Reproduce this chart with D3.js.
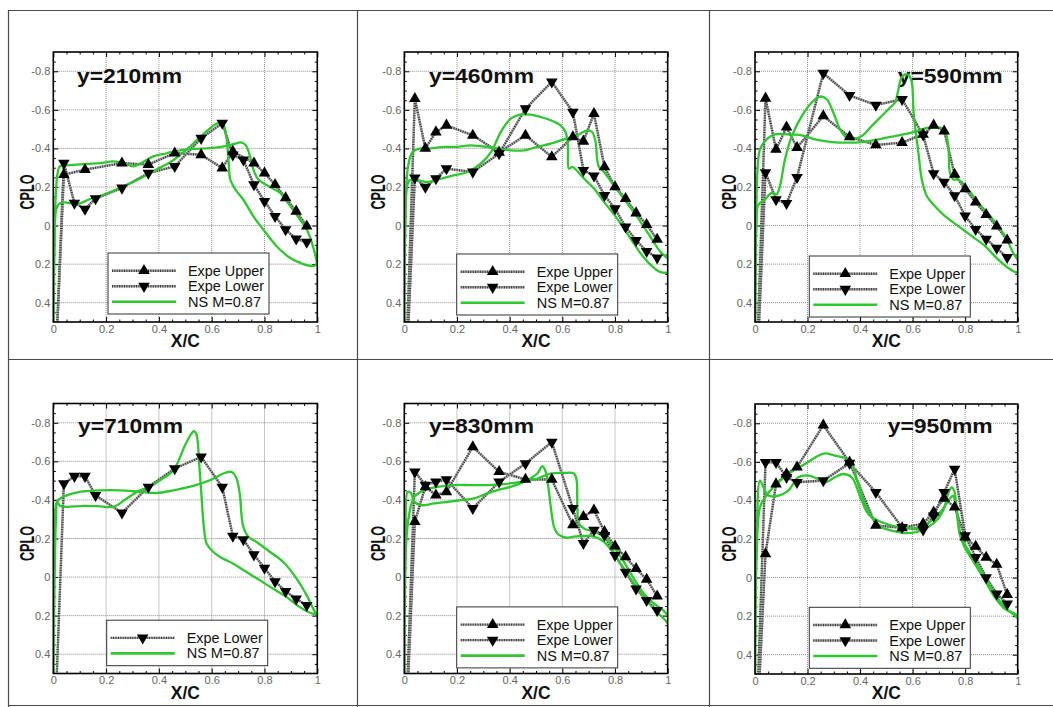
<!DOCTYPE html>
<html>
<head>
<meta charset="utf-8">
<script src="https://cdn.jsdelivr.net/npm/d3@7"></script>
<style>
  body { margin: 0; background: #fff; }
  svg { display: block; }
  text { font-family: "Liberation Sans", Arial, Helvetica, sans-serif; }
</style>
</head>
<body>
<svg id="chart" width="1053" height="707"></svg>
<script>
// ---------------------------------------------------------------
// Pressure coefficient CPLO along the chord, six span stations.
// ---------------------------------------------------------------

// Pressure-tap stations (x/c) shared by the experimental series
const xStations = [0, 0.04, 0.08, 0.12, 0.16, 0.26, 0.36, 0.46, 0.56, 0.64, 0.68, 0.72, 0.76, 0.80, 0.84, 0.88, 0.92, 0.96];

// Axis ticks
const xTicks = [0, 0.2, 0.4, 0.6, 0.8, 1];
const yTicks = [-0.8, -0.6, -0.4, -0.2, 0, 0.2, 0.4];
const yDomain = [-0.9, 0.5];

const titles = ["y=210mm", "y=460mm", "y=590mm", "y=710mm", "y=830mm", "y=950mm"];
const legendLabels = ["Expe Upper", "Expe Lower", "NS M=0.87"];

// --- y = 210 mm ---
const upper210 = [1.0, -0.264, null, -0.29, null, -0.324, -0.316, -0.376, -0.367, -0.298, -0.384, null, -0.324, -0.272, -0.212, -0.143, -0.074, 0.003];
const lower210 = [1.0, -0.324, -0.117, -0.086, -0.14, -0.195, -0.272, -0.307, -0.453, -0.531, -0.367, -0.341, -0.212, -0.126, -0.048, 0.021, 0.069, 0.086];
const nsA210 = [[0,0.6],[0.004,0.15],[0.009,-0.15],[0.016,-0.27],[0.025,-0.307],[0.05,-0.312],[0.088,-0.316],[0.13,-0.32],[0.177,-0.324],[0.227,-0.333],[0.265,-0.325],[0.303,-0.307],[0.34,-0.33],[0.379,-0.359],[0.43,-0.375],[0.492,-0.393],[0.54,-0.398],[0.58,-0.40],[0.62,-0.405],[0.657,-0.415],[0.69,-0.425],[0.707,-0.431],[0.722,-0.425],[0.732,-0.41],[0.745,-0.36],[0.758,-0.29],[0.776,-0.24],[0.808,-0.21],[0.835,-0.19],[0.859,-0.17],[0.885,-0.125],[0.909,-0.08],[0.935,-0.03],[0.96,0.02],[0.975,0.07],[0.99,0.14],[1.0,0.2]];
const nsB210 = [[0,0.6],[0.004,0.1],[0.01,-0.08],[0.02,-0.11],[0.04,-0.12],[0.07,-0.115],[0.1,-0.115],[0.139,-0.138],[0.2,-0.165],[0.265,-0.203],[0.33,-0.245],[0.39,-0.29],[0.45,-0.335],[0.518,-0.41],[0.58,-0.488],[0.625,-0.531],[0.645,-0.52],[0.657,-0.445],[0.664,-0.33],[0.67,-0.24],[0.68,-0.21],[0.69,-0.186],[0.72,-0.134],[0.758,-0.048],[0.795,0.02],[0.846,0.107],[0.896,0.167],[0.947,0.2],[0.985,0.21],[0.997,0.2],[1.0,0.1]];

// --- y = 460 mm ---
const upper460 = [1.0, -0.658, -0.40, -0.485, -0.52, -0.468, -0.38, -0.468, -0.356, -0.46, -0.437, -0.58, -0.304, -0.2, -0.14, -0.065, -0.005, 0.072];
const lower460 = [1.0, -0.247, -0.20, -0.244, -0.295, -0.278, -0.373, -0.606, -0.745, -0.589, -0.287, -0.258, -0.157, -0.088, 0.007, 0.076, 0.133, 0.167];
const nsA460 = [[0,0.6],[0.004,0.0],[0.01,-0.2],[0.02,-0.235],[0.05,-0.235],[0.09,-0.226],[0.14,-0.244],[0.19,-0.261],[0.24,-0.278],[0.29,-0.321],[0.33,-0.382],[0.366,-0.485],[0.404,-0.555],[0.44,-0.575],[0.48,-0.575],[0.518,-0.563],[0.556,-0.546],[0.593,-0.52],[0.612,-0.485],[0.621,-0.416],[0.625,-0.295],[0.638,-0.304],[0.65,-0.292],[0.682,-0.244],[0.72,-0.192],[0.758,-0.123],[0.808,-0.036],[0.859,0.067],[0.9,0.15],[0.94,0.21],[0.97,0.24],[1.0,0.245]];
const nsB460 = [[0,0.6],[0.005,-0.1],[0.015,-0.313],[0.032,-0.382],[0.063,-0.4],[0.1,-0.4],[0.15,-0.408],[0.2,-0.408],[0.25,-0.416],[0.3,-0.41],[0.354,-0.4],[0.404,-0.39],[0.455,-0.39],[0.505,-0.408],[0.556,-0.425],[0.606,-0.447],[0.657,-0.468],[0.694,-0.494],[0.713,-0.485],[0.726,-0.434],[0.732,-0.347],[0.739,-0.304],[0.758,-0.278],[0.795,-0.209],[0.833,-0.14],[0.884,-0.045],[0.934,0.058],[0.972,0.136],[1.0,0.17]];

// --- y = 590 mm ---
const upper590 = [1.0, -0.66, -0.395, -0.51, -0.404, -0.568, -0.46, -0.418, -0.43, -0.473, -0.52, -0.49, -0.265, -0.19, -0.121, -0.057, 0.003, 0.076];
const lower590 = [1.0, -0.275, -0.135, -0.115, -0.25, -0.79, -0.675, -0.625, -0.655, -0.47, -0.27, -0.225, -0.155, -0.05, 0.02, 0.07, 0.117, 0.165];
const nsA590 = [[0,0.6],[0.004,0.038],[0.009,-0.274],[0.019,-0.395],[0.044,-0.447],[0.076,-0.473],[0.127,-0.473],[0.178,-0.468],[0.228,-0.447],[0.292,-0.433],[0.355,-0.43],[0.406,-0.433],[0.47,-0.447],[0.533,-0.464],[0.596,-0.482],[0.66,-0.508],[0.704,-0.508],[0.723,-0.49],[0.736,-0.412],[0.742,-0.274],[0.755,-0.239],[0.774,-0.239],[0.812,-0.187],[0.85,-0.118],[0.901,-0.04],[0.952,0.055],[0.983,0.142],[1.0,0.177]];
const nsB590 = [[0,0.6],[0.005,0.0],[0.01,-0.1],[0.019,-0.118],[0.038,-0.135],[0.063,-0.17],[0.082,-0.161],[0.095,-0.205],[0.114,-0.343],[0.14,-0.464],[0.178,-0.568],[0.216,-0.638],[0.247,-0.669],[0.273,-0.655],[0.298,-0.586],[0.324,-0.499],[0.349,-0.456],[0.374,-0.447],[0.406,-0.464],[0.444,-0.516],[0.482,-0.568],[0.514,-0.612],[0.533,-0.638],[0.546,-0.707],[0.558,-0.768],[0.577,-0.785],[0.594,-0.759],[0.603,-0.603],[0.609,-0.516],[0.622,-0.378],[0.635,-0.239],[0.654,-0.153],[0.685,-0.1],[0.723,-0.049],[0.774,0.003],[0.825,0.055],[0.876,0.107],[0.926,0.177],[0.964,0.22],[0.996,0.243],[1.0,0.24]];

// --- y = 710 mm (lower surface only) ---
const lower710 = [1.0, -0.485, -0.523, -0.523, -0.424, -0.333, -0.467, -0.563, -0.623, -0.467, -0.213, -0.194, -0.116, -0.047, 0.023, 0.074, 0.113, 0.147];
const nsA710 = [[0,0.6],[0.005,0.0],[0.01,-0.3],[0.015,-0.39],[0.025,-0.37],[0.05,-0.364],[0.114,-0.369],[0.177,-0.367],[0.227,-0.364],[0.278,-0.407],[0.328,-0.45],[0.366,-0.468],[0.404,-0.502],[0.455,-0.554],[0.499,-0.684],[0.524,-0.745],[0.533,-0.757],[0.543,-0.736],[0.553,-0.58],[0.562,-0.407],[0.571,-0.251],[0.581,-0.173],[0.606,-0.13],[0.644,-0.095],[0.682,-0.069],[0.732,-0.026],[0.783,0.017],[0.833,0.061],[0.884,0.104],[0.934,0.156],[0.972,0.185],[1.0,0.196]];
const nsB710 = [[0,0.6],[0.006,-0.25],[0.013,-0.39],[0.025,-0.407],[0.05,-0.424],[0.1,-0.442],[0.177,-0.45],[0.253,-0.45],[0.328,-0.442],[0.391,-0.436],[0.455,-0.45],[0.53,-0.473],[0.593,-0.502],[0.644,-0.537],[0.676,-0.545],[0.694,-0.511],[0.707,-0.424],[0.713,-0.32],[0.72,-0.26],[0.739,-0.208],[0.77,-0.182],[0.821,-0.13],[0.871,-0.078],[0.922,0.009],[0.96,0.095],[0.985,0.165],[1.0,0.203]];

// --- y = 830 mm ---
const upper830 = [1.0, -0.287, -0.468, -0.425, -0.442, -0.675, -0.546, -0.506, -0.506, -0.27, -0.313, -0.347, -0.235, -0.16, -0.104, -0.043, 0.012, 0.099];
const lower830 = [1.0, -0.546, -0.477, -0.494, -0.506, -0.356, -0.494, -0.589, -0.70, -0.356, -0.175, -0.244, -0.216, -0.113, -0.026, 0.061, 0.121, 0.173];
const nsA830 = [[0,0.6],[0.004,-0.1],[0.006,-0.19],[0.013,-0.442],[0.025,-0.437],[0.038,-0.39],[0.063,-0.373],[0.114,-0.382],[0.164,-0.39],[0.215,-0.399],[0.265,-0.408],[0.316,-0.434],[0.354,-0.451],[0.404,-0.468],[0.455,-0.494],[0.505,-0.537],[0.524,-0.575],[0.537,-0.546],[0.545,-0.485],[0.556,-0.365],[0.568,-0.261],[0.581,-0.226],[0.6,-0.21],[0.619,-0.204],[0.644,-0.21],[0.682,-0.213],[0.72,-0.21],[0.758,-0.183],[0.795,-0.123],[0.833,-0.045],[0.871,0.033],[0.909,0.102],[0.947,0.165],[0.985,0.215],[1.0,0.24]];
const nsB830 = [[0,0.6],[0.006,-0.15],[0.019,-0.33],[0.038,-0.416],[0.076,-0.451],[0.126,-0.468],[0.189,-0.477],[0.253,-0.477],[0.316,-0.477],[0.379,-0.482],[0.442,-0.494],[0.505,-0.511],[0.556,-0.537],[0.606,-0.54],[0.644,-0.537],[0.654,-0.503],[0.657,-0.365],[0.663,-0.278],[0.682,-0.252],[0.72,-0.235],[0.758,-0.21],[0.795,-0.157],[0.833,-0.08],[0.871,0.007],[0.909,0.085],[0.947,0.136],[0.985,0.175],[1.0,0.2]];

// --- y = 950 mm ---
const upper950 = [1.0, -0.123, -0.485, -0.537, -0.572, -0.79, -0.598, -0.27, -0.258, -0.28, -0.339, -0.41, -0.365, -0.21, -0.161, -0.105, -0.068, 0.088];
const lower950 = [1.0, -0.598, -0.598, -0.52, -0.494, -0.503, -0.593, -0.442, -0.26, -0.247, -0.32, -0.442, -0.563, -0.218, -0.105, 0.0, 0.084, 0.136];
const nsA950 = [[0,0.6],[0.006,-0.1],[0.019,-0.365],[0.038,-0.416],[0.076,-0.477],[0.127,-0.537],[0.19,-0.589],[0.241,-0.632],[0.266,-0.644],[0.304,-0.632],[0.342,-0.62],[0.368,-0.589],[0.393,-0.485],[0.418,-0.382],[0.444,-0.313],[0.482,-0.261],[0.532,-0.24],[0.583,-0.23],[0.634,-0.244],[0.684,-0.287],[0.716,-0.347],[0.735,-0.434],[0.748,-0.468],[0.758,-0.451],[0.767,-0.365],[0.779,-0.244],[0.798,-0.175],[0.837,-0.088],[0.875,-0.002],[0.913,0.084],[0.951,0.154],[0.989,0.197],[1.0,0.21]];
const nsB950 = [[0,0.6],[0.006,-0.192],[0.019,-0.503],[0.032,-0.468],[0.051,-0.425],[0.089,-0.425],[0.127,-0.451],[0.165,-0.52],[0.203,-0.529],[0.241,-0.511],[0.266,-0.494],[0.304,-0.52],[0.336,-0.537],[0.368,-0.52],[0.406,-0.399],[0.431,-0.33],[0.469,-0.295],[0.52,-0.27],[0.57,-0.258],[0.621,-0.258],[0.672,-0.295],[0.71,-0.347],[0.741,-0.408],[0.754,-0.425],[0.767,-0.347],[0.779,-0.226],[0.798,-0.157],[0.837,-0.071],[0.875,0.015],[0.913,0.102],[0.951,0.162],[0.989,0.188],[1.0,0.2]];

const panels = [
  { title: titles[0], upper: upper210, lower: lower210, ns: [nsA210, nsB210] },
  { title: titles[1], upper: upper460, lower: lower460, ns: [nsA460, nsB460] },
  { title: titles[2], upper: upper590, lower: lower590, ns: [nsA590, nsB590] },
  { title: titles[3], upper: null,     lower: lower710, ns: [nsA710, nsB710] },
  { title: titles[4], upper: upper830, lower: lower830, ns: [nsA830, nsB830] },
  { title: titles[5], upper: upper950, lower: lower950, ns: [nsA950, nsB950] }
];

// Page layout: plot frame position, title and legend placement per cell
const layout = [
  { left: 53.3,  top: 52,    width: 264,   titleDx: 23.7,  titleDy: 30.5, legDx: 54.7, legDy: 201 },
  { left: 404.3, top: 52,    width: 263.4, titleDx: 24.7,  titleDy: 31,   legDx: 52.4, legDy: 202 },
  { left: 755,   top: 52,    width: 262.7, titleDx: 142.7, titleDy: 30.5, legDx: 54.3, legDy: 204 },
  { left: 53.3,  top: 403.5, width: 264,   titleDx: 24.7,  titleDy: 29,   legDx: 53.4, legDy: 216.7 },
  { left: 404.3, top: 403.5, width: 263.4, titleDx: 24.7,  titleDy: 29,   legDx: 52.4, legDy: 203.4 },
  { left: 755,   top: 404,   width: 262.7, titleDx: 132.7, titleDy: 29,   legDx: 54.3, legDy: 203.3 }
];
const plotH = 270;

const green = "#2fc72f";
const svg = d3.select("#chart");

// Cell rules of the surrounding table
const rules = svg.append("g").attr("stroke", "#4a4a4a").attr("stroke-width", 1.2);
[10.5, 359.5, 705.5].forEach(yy => rules.append("line").attr("x1", 8).attr("x2", 1053).attr("y1", yy).attr("y2", yy));
[8.5, 357.5, 709.5].forEach(xx => rules.append("line").attr("x1", xx).attr("x2", xx).attr("y1", 10).attr("y2", 707));

// Minor tick positions (every 0.05, skipping major ticks)
const xMinor = d3.range(1, 20).filter(k => k % 4 !== 0).map(k => k / 20);
const yMinor = d3.range(-17, 10).filter(k => k % 4 !== 0).map(k => k / 20);
const fmt = d => String(d);

const expeLine = (vals) => xStations.map((s, j) => [s, vals[j]]).filter(d => d[1] !== null);

// dotted grey stroke used for the measured series
function dottedStroke(parent, attrs) {
  const a = parent.append(attrs.tag);
  const b = parent.append(attrs.tag);
  Object.entries(attrs.geom).forEach(([k, v]) => { a.attr(k, v); b.attr(k, v); });
  a.attr("fill", "none").attr("stroke", "#a8a8a8").attr("stroke-width", 2.4);
  b.attr("fill", "none").attr("stroke", "#3a3a3a").attr("stroke-width", 2.4).attr("stroke-dasharray", "1,1.4");
}

panels.forEach((p, i) => {
  const lay = layout[i];
  const L = lay.left, T = lay.top, W = lay.width, H = plotH;
  const x = d3.scaleLinear().domain([0, 1]).range([L, L + W]);
  const y = d3.scaleLinear().domain(yDomain).range([T, T + H]);
  const g = svg.append("g");

  const clipId = "plotclip" + i;
  svg.append("clipPath").attr("id", clipId)
    .append("rect").attr("x", L).attr("y", T).attr("width", W).attr("height", H);

  // grid
  const grid = g.append("g").attr("stroke", "#8e8e8e").attr("stroke-width", 1).attr("stroke-dasharray", "1,1");
  grid.selectAll("line.gx").data(xTicks.slice(1, -1)).join("line").attr("class", "gx")
    .attr("x1", d => x(d)).attr("x2", d => x(d)).attr("y1", T).attr("y2", T + H);
  grid.selectAll("line.gy").data(yTicks).join("line").attr("class", "gy")
    .attr("x1", L).attr("x2", L + W).attr("y1", d => y(d)).attr("y2", d => y(d));

  // axes with inward ticks on all four sides
  const styleAxis = a => {
    a.select(".domain").remove();
    a.selectAll(".tick line").attr("stroke", "#000").attr("stroke-width", 1);
    a.attr("font-family", "'Liberation Sans', Arial, sans-serif").attr("font-size", 11);
    a.selectAll("text").attr("fill", "#666");
  };
  g.append("g").attr("transform", `translate(0,${T + H})`)
    .call(d3.axisBottom(x).tickValues(xTicks).tickSize(-5).tickPadding(3).tickFormat(fmt)).call(styleAxis);
  g.append("g").attr("transform", `translate(0,${T + H})`)
    .call(d3.axisBottom(x).tickValues(xMinor).tickSize(-2.5).tickFormat("")).call(styleAxis);
  g.append("g").attr("transform", `translate(0,${T})`)
    .call(d3.axisTop(x).tickValues(xTicks).tickSize(-5).tickFormat("")).call(styleAxis);
  g.append("g").attr("transform", `translate(0,${T})`)
    .call(d3.axisTop(x).tickValues(xMinor).tickSize(-2.5).tickFormat("")).call(styleAxis);
  g.append("g").attr("transform", `translate(${L},0)`)
    .call(d3.axisLeft(y).tickValues(yTicks).tickSize(-5).tickPadding(3).tickFormat(fmt)).call(styleAxis);
  g.append("g").attr("transform", `translate(${L},0)`)
    .call(d3.axisLeft(y).tickValues(yMinor).tickSize(-2.5).tickFormat("")).call(styleAxis);
  g.append("g").attr("transform", `translate(${L + W},0)`)
    .call(d3.axisRight(y).tickValues(yTicks).tickSize(-5).tickFormat("")).call(styleAxis);
  g.append("g").attr("transform", `translate(${L + W},0)`)
    .call(d3.axisRight(y).tickValues(yMinor).tickSize(-2.5).tickFormat("")).call(styleAxis);

  // axis titles
  g.append("text").attr("x", L + W / 2).attr("y", T + H + 25)
    .attr("text-anchor", "middle").attr("font-weight", "bold").attr("font-size", 18)
    .attr("textLength", 29).attr("lengthAdjust", "spacingAndGlyphs").attr("fill", "#111")
    .text("X/C");
  g.append("text").attr("transform", `translate(${L - 19.5},${T + H / 2 + 5}) rotate(-90)`)
    .attr("text-anchor", "middle").attr("font-weight", "bold").attr("font-size", 19.5)
    .attr("textLength", 35).attr("lengthAdjust", "spacingAndGlyphs").attr("fill", "#111")
    .text("CPLO");

  // station title
  g.append("text").attr("x", L + lay.titleDx).attr("y", T + lay.titleDy)
    .attr("font-weight", "bold").attr("font-size", 21)
    .attr("textLength", 105).attr("lengthAdjust", "spacingAndGlyphs").attr("fill", "#111")
    .text(p.title);

  // data
  const data = g.append("g").attr("clip-path", `url(#${clipId})`);
  const line = d3.line().x(d => x(d[0])).y(d => y(d[1]));
  const curve = d3.line().x(d => x(d[0])).y(d => y(d[1])).curve(d3.curveCatmullRom.alpha(0.5));

  const series = [];
  if (p.upper) series.push({ vals: p.upper, rot: 0 });
  series.push({ vals: p.lower, rot: 180 });

  series.forEach(s => {
    dottedStroke(data, { tag: "path", geom: { d: line(expeLine(s.vals)) } });
  });

  p.ns.forEach(c => {
    data.append("path").attr("d", curve(c)).attr("fill", "none")
      .attr("stroke", green).attr("stroke-width", 2.3).attr("stroke-linejoin", "round");
  });

  const tri = d3.symbol(d3.symbolTriangle, 58);
  series.forEach(s => {
    data.append("g").selectAll("path").data(expeLine(s.vals)).join("path")
      .attr("d", tri)
      .attr("transform", d => `translate(${x(d[0])},${y(d[1])}) rotate(${s.rot})`)
      .attr("fill", "#000");
  });

  // frame
  g.append("rect").attr("x", L).attr("y", T).attr("width", W).attr("height", H)
    .attr("fill", "none").attr("stroke", "#000").attr("stroke-width", 1.6);

  // legend
  const entries = [];
  if (p.upper) entries.push({ label: legendLabels[0], kind: "expe", rot: 0, len: 76 });
  entries.push({ label: legendLabels[1], kind: "expe", rot: 180, len: 76 });
  entries.push({ label: legendLabels[2], kind: "ns", len: 73 });
  const lx = L + lay.legDx, ly = T + lay.legDy;
  const lg = g.append("g");
  lg.append("rect").attr("x", lx).attr("y", ly).attr("width", 161)
    .attr("height", 30 + 15.5 * (entries.length - 1))
    .attr("fill", "#fff").attr("stroke", "#333").attr("stroke-width", 1);
  entries.forEach((e, k) => {
    const cy = ly + 17.7 + 15.5 * k;
    if (e.kind === "expe") {
      dottedStroke(lg, { tag: "line", geom: { x1: lx + 4, x2: lx + 68, y1: cy, y2: cy } });
      lg.append("path").attr("d", tri).attr("transform", `translate(${lx + 36},${cy}) rotate(${e.rot})`)
        .attr("fill", "#000");
    } else {
      lg.append("line").attr("x1", lx + 4).attr("x2", lx + 68).attr("y1", cy).attr("y2", cy)
        .attr("stroke", green).attr("stroke-width", 2.6);
    }
    lg.append("text").attr("x", lx + 80).attr("y", cy + 5)
      .attr("font-size", 14).attr("fill", "#111")
      .attr("textLength", e.len).attr("lengthAdjust", "spacingAndGlyphs")
      .text(e.label);
  });
});
</script>
</body>
</html>
